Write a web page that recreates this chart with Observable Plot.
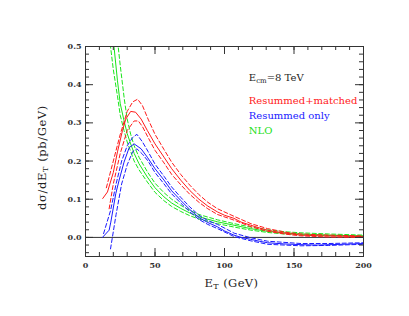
<!DOCTYPE html>
<html><head><meta charset="utf-8">
<script src="https://cdn.jsdelivr.net/npm/d3@7"></script>
<script src="https://cdn.jsdelivr.net/npm/@observablehq/plot@0.6"></script>
<style>
body{margin:0;background:#fff;}
svg{font-family:"DejaVu Serif",serif;}
</style></head><body><div id="chart"></div>
<script>
// Resummed+matched (red)
const redX   = [12.4, 15.8, 20, 23, 26.6, 29, 32.5, 36, 40, 44.5, 50, 56.5, 62, 68.5, 75, 81.6, 88, 94.8, 100, 106.8, 112, 118.8, 125, 130.8, 140, 154.7, 170, 185, 200];
const redY   = [0.102, 0.119, 0.17, 0.224, 0.28, 0.31, 0.33, 0.328, 0.31, 0.28, 0.245, 0.21, 0.18, 0.15, 0.123, 0.10, 0.082, 0.067, 0.058, 0.05, 0.04, 0.032, 0.025, 0.019, 0.013, 0.006, 0.004, 0.003, 0.002];
const redUpX = [15, 20, 25, 30, 34, 37.5, 41, 45, 50, 56.5, 62, 68.5, 75, 81.6, 88, 95, 107, 119, 131, 145, 155, 175, 200];
const redUpY = [0.13, 0.2, 0.27, 0.33, 0.355, 0.362, 0.345, 0.31, 0.27, 0.23, 0.197, 0.165, 0.137, 0.112, 0.092, 0.075, 0.055, 0.036, 0.023, 0.013, 0.009, 0.006, 0.004];
const redLoX = [17, 20, 25, 30, 35, 38, 41, 45, 50, 56.5, 62, 68.5, 75, 81.6, 88, 95, 107, 119, 131, 145, 155, 175, 200];
const redLoY = [0.075, 0.14, 0.22, 0.28, 0.305, 0.305, 0.29, 0.262, 0.228, 0.195, 0.165, 0.138, 0.113, 0.092, 0.075, 0.06, 0.045, 0.028, 0.016, 0.008, 0.004, 0.001, 0.0];

// Resummed only (blue)
const blueX   = [12.2, 17, 18.2, 21.8, 24.2, 27.7, 31.4, 35, 40, 44.5, 50, 56.5, 62, 68.5, 75, 81.6, 88, 94.8, 100, 106.8, 112, 118.8, 125, 131, 142.7, 155, 166.7, 185, 200];
const blueY   = [0.0, 0.019, 0.04, 0.115, 0.15, 0.197, 0.235, 0.245, 0.232, 0.21, 0.18, 0.15, 0.122, 0.097, 0.073, 0.052, 0.039, 0.028, 0.017, 0.006, 0.0, -0.005, -0.01, -0.014, -0.017, -0.019, -0.02, -0.018, -0.016];
const blueUpX = [13, 18, 22, 26, 30, 34, 37, 41, 45, 50, 56.5, 62, 68.5, 75, 81.6, 88, 95, 107, 119, 131, 155, 175, 200];
const blueUpY = [0.01, 0.07, 0.14, 0.2, 0.24, 0.262, 0.27, 0.25, 0.225, 0.192, 0.16, 0.132, 0.105, 0.08, 0.058, 0.044, 0.034, 0.011, -0.001, -0.01, -0.016, -0.016, -0.014];
const blueLoX = [18, 22, 26, 30, 34, 37, 41, 45, 50, 56.5, 62, 68.5, 75, 81.6, 88, 95, 107, 119, 131, 155, 175, 200];
const blueLoY = [-0.03, 0.06, 0.14, 0.19, 0.225, 0.232, 0.218, 0.2, 0.17, 0.14, 0.114, 0.09, 0.067, 0.047, 0.034, 0.023, 0.002, -0.009, -0.018, -0.022, -0.021, -0.018];

// NLO (green)
const greenX   = [19.5, 20.5, 23, 25, 27.7, 30, 32.5, 35, 38.5, 44.5, 50, 56.5, 62, 68.5, 75, 81.6, 94.8, 106.8, 118.8, 130.8, 142, 154.7, 175, 200];
const greenY   = [0.54, 0.5, 0.41, 0.35, 0.306, 0.272, 0.245, 0.22, 0.193, 0.158, 0.13, 0.106, 0.09, 0.076, 0.064, 0.054, 0.041, 0.032, 0.023, 0.016, 0.012, 0.009, 0.006, 0.004];
const greenUpX = [22.5, 23.5, 25, 28, 30, 32.5, 35, 38.5, 44.5, 50, 56.5, 62, 68.5, 75, 81.6, 95, 107, 119, 131, 143, 155, 175, 200];
const greenUpY = [0.53, 0.5, 0.45, 0.36, 0.31, 0.27, 0.24, 0.21, 0.172, 0.142, 0.117, 0.1, 0.084, 0.071, 0.06, 0.046, 0.036, 0.027, 0.02, 0.015, 0.012, 0.009, 0.006];
const greenLoX = [17.2, 18, 20, 23, 25, 27.7, 30, 32.5, 35, 38.5, 44.5, 50, 56.5, 62, 68.5, 75, 81.6, 95, 107, 119, 131, 143, 155, 175, 200];
const greenLoY = [0.54, 0.5, 0.44, 0.37, 0.32, 0.28, 0.25, 0.225, 0.2, 0.177, 0.145, 0.118, 0.096, 0.081, 0.068, 0.057, 0.048, 0.036, 0.027, 0.019, 0.013, 0.009, 0.007, 0.005, 0.003];

const xMajor = [0, 50, 100, 150, 200];
const xMinor = d3.range(0, 201, 10);
const yMajor = [0, 0.1, 0.2, 0.3, 0.4, 0.5];
const yMinor = d3.range(-0.04, 0.5001, 0.02).map(v => +v.toFixed(2));
const yLabels = ["0.0", "0.1", "0.2", "0.3", "0.4", "0.5"];

const legendX = 117.5;
const legendText = [
  {t: "E{cm}=8 TeV", y: 0.4175, c: "#222"},
  {t: "Resummed+matched", y: 0.3586, c: "#ff2020"},
  {t: "Resummed only", y: 0.318, c: "#2020ff"},
  {t: "NLO", y: 0.28, c: "#20e020"}
];

const RED = "#ff1a1a", BLUE = "#1a1aff", GREEN = "#19e619";
const zip = (xs, ys) => xs.map((x, i) => ({x, y: ys[i]}));
const DASH = "4,2.5";

const W = 409, H = 316, mT = 46, mB = 60, mL = 85, mR = 46;
const innerH = H - mT - mB, innerW = W - mL - mR;

function curve(xs, ys, color, dashed) {
  return Plot.line(zip(xs, ys), {x: "x", y: "y", stroke: color, strokeWidth: 1, strokeDasharray: dashed ? DASH : null, clip: true});
}

const plot = Plot.plot({
  width: W, height: H,
  marginTop: mT, marginBottom: mB, marginLeft: mL, marginRight: mR,
  style: {fontFamily: "DejaVu Serif, serif", background: "white"},
  x: {domain: [0, 200]},
  y: {domain: [-0.05, 0.5]},
  marks: [
    Plot.ruleY([0], {stroke: "#333", strokeWidth: 1}),
    curve(greenUpX, greenUpY, GREEN, true),
    curve(greenLoX, greenLoY, GREEN, true),
    curve(greenX, greenY, GREEN, false),
    curve(redUpX, redUpY, RED, true),
    curve(redLoX, redLoY, RED, true),
    curve(redX, redY, RED, false),
    curve(blueUpX, blueUpY, BLUE, true),
    curve(blueLoX, blueLoY, BLUE, true),
    curve(blueX, blueY, BLUE, false),
    // ticks bottom
    Plot.tickX(xMinor, {x: d => d, stroke: "#333", insetTop: innerH - 4}),
    Plot.tickX(xMajor, {x: d => d, stroke: "#333", insetTop: innerH - 8}),
    // ticks top
    Plot.tickX(xMinor, {x: d => d, stroke: "#333", insetBottom: innerH - 4}),
    Plot.tickX(xMajor, {x: d => d, stroke: "#333", insetBottom: innerH - 8}),
    // ticks left
    Plot.tickY(yMinor, {y: d => d, stroke: "#333", insetRight: innerW - 4}),
    Plot.tickY(yMajor, {y: d => d, stroke: "#333", insetRight: innerW - 8}),
    // ticks right
    Plot.tickY(yMinor, {y: d => d, stroke: "#333", insetLeft: innerW - 4}),
    Plot.tickY(yMajor, {y: d => d, stroke: "#333", insetLeft: innerW - 8}),
    Plot.axisX({ticks: xMajor, tickSize: 0, tickPadding: 6, fontSize: 8, fontWeight: "bold", fill: "#333",
      label: "E{T} (GeV)", labelAnchor: "center", labelArrow: "none", labelOffset: 30}),
    Plot.axisY({ticks: yMajor, tickSize: 0, tickPadding: 4, fontSize: 8, fontWeight: "bold", fill: "#333",
      tickFormat: (d, i) => yLabels[yMajor.indexOf(d)],
      label: "dσ/dE{T} (pb/GeV)", labelAnchor: "center", labelArrow: "none", labelOffset: 48}),
    Plot.frame({stroke: "#333", strokeWidth: 1}),
    Plot.text(legendText, {x: legendX, y: "y", text: "t", fill: "c", textAnchor: "start", fontSize: 10})
  ]
});

// convert {..} markup into subscripts
d3.select(plot).selectAll("text").each(function() {
  const tsp = d3.select(this).selectAll("tspan");
  const targets = tsp.empty() ? [this] : tsp.nodes();
  targets.forEach(node => {
    const s = node.textContent;
    if (!s.includes("{")) return;
    const parts = s.split(/(\{[^}]*\})/).filter(p => p);
    const sel = d3.select(node);
    sel.text(null);
    let afterSub = false;
    parts.forEach(p => {
      if (p.startsWith("{")) {
        sel.append("tspan").attr("font-size", "0.7em").attr("dy", "0.3em").text(p.slice(1, -1));
        afterSub = true;
      } else {
        const t = sel.append("tspan").text(p);
        if (afterSub) t.attr("dy", "-0.21em");
        afterSub = false;
      }
    });
  });
});
d3.select(plot).selectAll("[aria-label='x-axis label'] text")
  .attr("font-size", 11.5).attr("font-weight", "normal").attr("fill", "#222").attr("dx", 7).attr("letter-spacing", 0.4);
d3.select(plot).selectAll("[aria-label='y-axis label'] text")
  .attr("font-size", 11.5).attr("font-weight", "normal").attr("fill", "#222").attr("dx", -6).attr("letter-spacing", 0.6);
document.getElementById("chart").appendChild(plot);
</script></body></html>
